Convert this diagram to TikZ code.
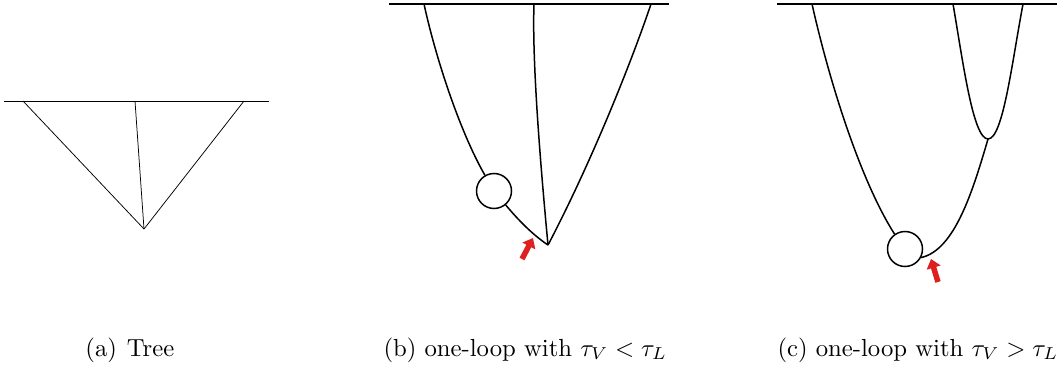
\documentclass[tikz,border=0pt]{standalone}
\usetikzlibrary{arrows.meta}
\definecolor{arrowred}{RGB}{222,32,32}
\begin{document}
\begin{tikzpicture}[x=1pt,y=-1pt,
  thinline/.style={draw=black,line width=0.75pt},
  thinrule/.style={draw=black,line width=1pt},
  boldline/.style={draw=black,line width=1.5pt},
  boldrule/.style={draw=black,line width=1.9pt},
  loopnode/.style={circle,draw=black,line width=1.5pt,minimum size=35pt,inner sep=0pt},
  redarrow/.style={draw=arrowred,line width=5.5pt,-{Triangle[length=9pt,width=14pt]}},
  captext/.style={inner sep=0pt,anchor=base west,scale=2.47,transform shape,font=\fontsize{10}{12}\selectfont}]
\useasboundingbox (0,0) rectangle (1064,369);
% (a)
\coordinate (a1) at (4,101); \coordinate (a2) at (269,101);
\coordinate (av) at (144,229);
\coordinate (at1) at (23,101); \coordinate (at2) at (135,101); \coordinate (at3) at (244,101);
\draw[thinrule] (a1) -- (a2);
\draw[thinline] (at1) -- (av);
\draw[thinline] (at2) -- (av);
\draw[thinline] (at3) -- (av);
% (b)
\coordinate (b1) at (389,4); \coordinate (b2) at (669,4);
\coordinate (bv) at (548,245);
\coordinate (bt1) at (424,4); \coordinate (bt2) at (534,4); \coordinate (bt3) at (651,4);
\draw[boldrule] (b1) -- (b2);
\node[loopnode] (bloop) at (494,191) {};
\draw[boldline] (bt1) .. controls (435,55) and (459,130) .. (bloop.120);
\draw[boldline] (bloop.-50) .. controls (514,215) and (530,233) .. (bv);
\draw[boldline] (bt2) .. controls (532,60) and (540,160) .. (bv);
\draw[boldline] (bt3) .. controls (630,66) and (590,165) .. (bv);
\coordinate (bat) at (522,259); \coordinate (bah) at (533,238);
\draw[redarrow] (bat) -- (bah);
% (c)
\coordinate (c1) at (777,4); \coordinate (c2) at (1057,4);
\coordinate (cv) at (988,139);
\coordinate (ct1) at (812,4); \coordinate (ct2) at (953,4); \coordinate (ct3) at (1023,4);
\draw[boldrule] (c1) -- (c2);
\node[loopnode] (cloop) at (905,249) {};
\draw[boldline] (ct1) .. controls (829,80) and (860,180) .. (cloop.125);
\draw[boldline] (cloop.-28) .. controls (955,250) and (973,190) .. (cv);
\draw[boldline] (ct2) .. controls (963,62) and (973,139) .. (cv);
\draw[boldline] (cv) .. controls (1003,139) and (1012,62) .. (ct3);
\coordinate (cat) at (938,282); \coordinate (cah) at (931,259);
\draw[redarrow] (cat) -- (cah);
% captions
\node[captext] (capa) at (85,356) {(a)\hspace{0.4em}Tree};
\node[captext] (capb) at (383,356) {(b)\hspace{0.33em}one-loop with $\tau_V<\tau_L$};
\node[captext] (capc) at (777,356) {(c)\hspace{0.33em}one-loop with $\tau_V>\tau_L$};
\end{tikzpicture}
\end{document}
